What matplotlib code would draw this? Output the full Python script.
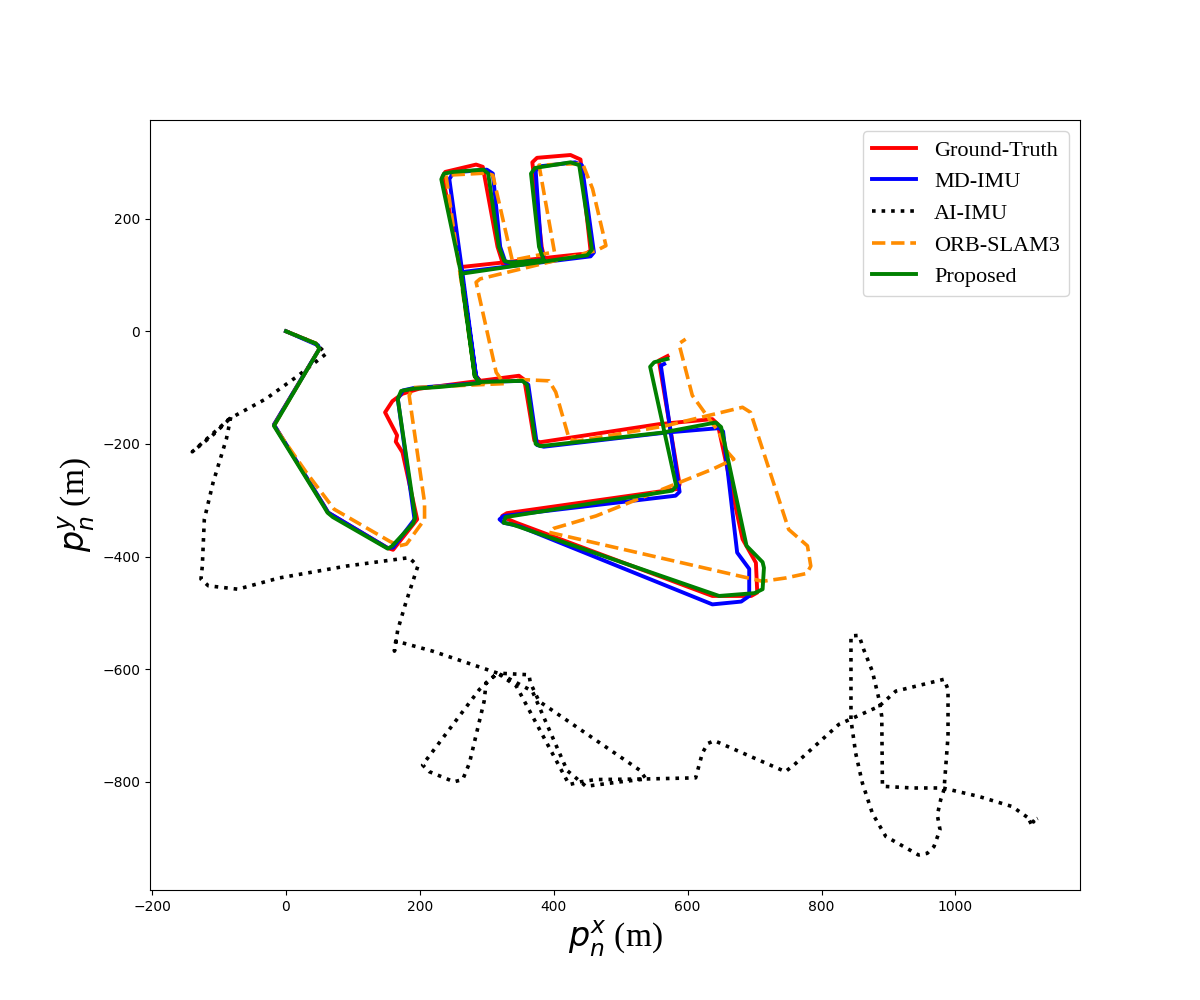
import matplotlib
matplotlib.use('Agg')
from matplotlib import pyplot as plt

# trajectories (m)
gt_x = [0, 45, 50, -18, 57, 63, 152, 160, 196, 174, 164, 166, 148, 159, 174, 199, 289, 283, 262, 234, 238,
        284, 294, 316, 324, 335, 386, 382, 368, 375, 425, 440, 455, 448, 261, 283, 290, 348, 356, 371, 380,
        557, 637, 645, 682, 702, 704, 695, 637, 344, 330, 323, 330, 585, 588, 557, 570]
gt_y = [0, -22, -31, -166, -310, -322, -385, -388, -334, -215, -196, -185, -144, -124, -111, -102, -88, -78,
        105, 275, 283, 296, 292, 150, 120, 118, 129, 150, 300, 308, 313, 305, 143, 138, 114, -78, -88, -79,
        -86, -194, -197, -165, -156, -165, -369, -411, -464, -470, -470, -340, -333, -328, -323, -280, -272,
        -52, -44]

md_x = [0, 48, 50, -18, 57, 63, 152, 160, 192, 167, 175, 190, 289, 284, 264, 244, 250, 300, 309, 320, 328,
        385, 381, 373, 380, 432, 442, 460, 455, 262, 284, 290, 355, 362, 375, 385, 567, 647, 653, 674, 692,
        692, 680, 637, 348, 325, 319, 325, 582, 588, 560, 565]
md_y = [0, -25, -31, -166, -310, -322, -385, -384, -334, -120, -105, -101, -92, -80, 100, 270, 282, 287, 280,
        150, 122, 126, 150, 285, 293, 300, 295, 140, 133, 105, -80, -90, -88, -95, -202, -205, -180, -172,
        -178, -393, -422, -470, -480, -485, -346, -340, -334, -328, -292, -285, -61, -58]

ai_x = [0, 25, 45, 60, 18, -30, -84, -140, -110, -88, -82, -89, -109, -122, -125, -127, -116, -72, -10, 90,
        184, 197, 179, 167, 162, 164, 219, 316, 363, 365, 378, 528, 538, 500, 448, 420, 368, 330, 316, 289,
        204, 214, 251, 264, 274, 296, 299, 316, 344, 423, 440, 463, 538, 612, 622, 630, 640, 746, 759, 826,
        886, 911, 983, 989, 989, 983, 978, 973, 977, 968, 958, 945, 896, 876, 861, 851, 844, 844, 844, 856,
        863, 876, 886, 890, 891, 936, 981, 1035, 1085, 1117, 1108, 1123]
ai_y = [0, -12, -22, -40, -79, -120, -155, -214, -185, -160, -150, -191, -269, -334, -417, -440, -452, -458,
        -438, -417, -402, -417, -482, -530, -568, -550, -568, -607, -610, -624, -657, -779, -795, -800, -808,
        -780, -639, -615, -607, -636, -770, -782, -800, -796, -767, -657, -624, -607, -630, -805, -800, -796,
        -795, -793, -749, -732, -727, -782, -770, -698, -666, -639, -618, -636, -719, -814, -832, -859, -885,
        -915, -927, -930, -897, -856, -802, -749, -690, -618, -541, -540, -565, -604, -654, -684, -808, -811,
        -811, -826, -844, -871, -874, -865]

orb_x = [0, 45, 50, -18, 30, 72, 155, 169, 180, 207, 207, 189, 184, 190, 326, 314, 284, 290, 463, 478, 458,
         443, 378, 401, 338, 309, 300, 239, 259, 282, 288, 356, 393, 403, 423, 435, 567, 682, 694, 751, 779,
         784, 778, 747, 712, 393, 400, 463, 637, 669, 660, 647, 607, 587, 597]
orb_y = [0, -22, -31, -168, -250, -316, -373, -381, -378, -334, -304, -156, -114, -100, -93, -73, 87, 93, 143,
         152, 253, 298, 295, 141, 126, 277, 281, 277, 111, -80, -92, -86, -88, -108, -191, -195, -168, -135,
         -144, -352, -381, -417, -430, -438, -444, -357, -350, -328, -245, -227, -215, -180, -114, -22, -14]

prop_x = [0, 45, 50, -18, 57, 62, 70, 152, 158, 190, 193, 167, 172, 190, 229, 289, 282, 262, 232, 236, 250,
          295, 302, 318, 326, 335, 385, 378, 366, 372, 425, 438, 457, 450, 261, 282, 290, 353, 360, 373, 380,
          562, 642, 650, 688, 712, 714, 712, 700, 647, 338, 325, 328, 577, 583, 544, 550, 570]
prop_y = [0, -22, -31, -168, -312, -322, -330, -386, -382, -341, -330, -120, -106, -102, -99, -92, -80, 100,
          270, 280, 283, 287, 280, 150, 125, 122, 126, 150, 280, 290, 300, 295, 145, 135, 102, -80, -90, -88,
          -95, -200, -204, -180, -162, -170, -381, -410, -420, -458, -465, -470, -343, -340, -330, -283, -275,
          -63, -55, -49]

plt.figure(figsize=(12, 10), dpi=100)
plt.plot(gt_x, gt_y, color='red', lw=2.8, label='Ground-Truth')
plt.plot(md_x, md_y, color='blue', lw=2.8, label='MD-IMU')
plt.plot(ai_x, ai_y, color='black', lw=2.6, ls=':', label='AI-IMU')
plt.plot(orb_x, orb_y, color='darkorange', lw=2.6, ls='--', label='ORB-SLAM3')
plt.plot(prop_x, prop_y, color='green', lw=2.8, label='Proposed')

plt.xlabel(r'$p_n^x$ (m)', fontsize=24, family='Liberation Serif')
plt.ylabel(r'$p_n^y$ (m)', fontsize=24, family='Liberation Serif')
plt.legend(loc='upper right', prop={'family': 'Liberation Serif', 'size': 16})
plt.savefig('out.png')
